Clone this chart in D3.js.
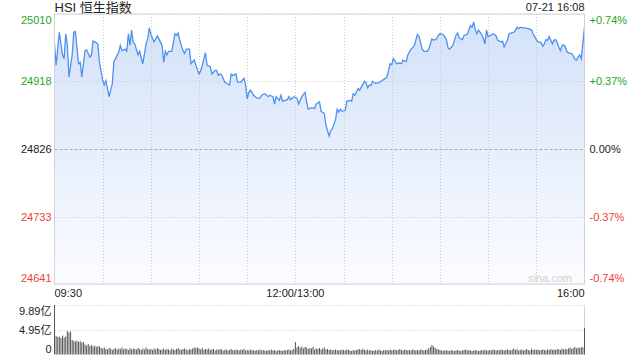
<!DOCTYPE html>
<html>
<head>
<meta charset="utf-8">
<script src="https://cdn.jsdelivr.net/npm/d3@7/dist/d3.min.js"></script>
<style>
  body { margin: 0; background: #fff; }
  svg text { font-family: "Liberation Sans", Arial, "Noto Sans CJK SC", sans-serif; }
</style>
</head>
<body>
<div id="chart"></div>
<script>
// trading minutes since 09:30 (lunch break removed), and index level
var minutes = [0,1,3,5,6,7,8,9,11,12,13,15,16,17,19,20,22,23,24,26,27,28,30,31,32,33,34,36,37,38,40,41,42,44,45,46,47,48,49,50,52,53,55,57,58,59,60,62,64,65,67,68,69,70,71,73,75,76,77,78,80,81,82,84,
  85,87,88,90,91,92,94,95,97,98,100,101,102,103,104,106,109,110,111,113,114,116,118,119,120,121,122,124,126,128,129,131,133,134,136,137,138,140,141,142,145,146,147,149,151,
  152,154,156,157,158,160,162,163,165,166,168,169,171,172,173,175,176,177,178,179,181,182,184,185,186,187,189,190,191,193,194,195,196,197,198,200,201,202,204,206,207,208,209,210,211,213,215,216,217,219,220,222,223,224,226,227,229,230,232,233,235,236,238,239,240,242,244,245,246,248,250,251,252,
  254,255,257,258,259,260,261,262,263,264,266,267,268,269,270,271,273,274,275,276,278,279,280,282,283,284,286,287,288,289,290,292,293,295,297,298,300,301,303,304,305,306,307,308,310,311,312,313,314,315,316,317,318,319,320,322,323,324,325,326,327,328,330];
var prices = [24969,24940,24985,24954,24949,24983,24967,24924,24954,24985,24986,24942,24944,24924,24960,24961,24951,24954,24973,24971,24969,24944,24919,24913,24919,24908,24897,24915,24945,24949,24958,24967,24960,24962,24959,24983,24967,24988,24971,24969,24954,24959,24942,24969,24976,24991,24982,24972,24980,24976,24967,24944,24959,24954,24959,24959,24983,24981,24984,24974,24960,24956,24962,24962,
  24942,24947,24940,24928,24932,24940,24957,24940,24938,24928,24933,24933,24926,24928,24927,24917,24913,24928,24926,24928,24917,24917,24922,24913,24894,24903,24906,24899,24895,24895,24899,24901,24897,24899,24897,24887,24897,24892,24899,24891,24893,24897,24893,24897,24895,
  24887,24897,24903,24890,24880,24882,24881,24887,24890,24877,24874,24858,24843,24851,24853,24866,24880,24876,24880,24877,24878,24891,24892,24891,24901,24899,24908,24906,24910,24918,24916,24909,24913,24912,24918,24915,24916,24916,24919,24922,24924,24933,24942,24941,24949,24942,24943,24942,24947,24945,24954,24962,24964,24967,24982,24979,24962,24959,24959,24962,24976,24974,24976,24981,24983,24982,24975,24964,24962,24967,24981,24984,24977,
  24975,24981,24982,24988,24994,24992,24999,24988,24983,24988,24982,24977,24969,24988,24979,24980,24983,24982,24980,24974,24972,24973,24965,24974,24983,24984,24985,24988,24992,24990,24992,24991,24991,24990,24988,24983,24975,24972,24971,24966,24969,24975,24974,24979,24969,24974,24975,24971,24965,24960,24967,24968,24965,24959,24957,24956,24953,24948,24947,24951,24954,24949,24992];

// volume per minute, in 亿
var volumes = [
  9.89,3.7,3.5,3.6,3.3,3.8,3.4,3.6,4.7,4.4,4.6,2.9,2.7,2.6,2.8,2.5,2.7,2.4,2.5,2.0,1.8,2.1,1.7,1.9,1.6,1.8,1.5,1.7,1.6,1.3,
  1.2,1.4,1.1,1.0,1.3,1.2,0.9,1.1,1.3,1.0,1.2,1.1,1.4,1.0,1.2,1.1,0.9,1.3,1.0,1.2,1.1,1.0,1.3,1.1,0.9,1.2,1.0,1.4,1.1,1.0,
  1.1,0.9,1.2,1.0,1.3,1.1,0.9,1.0,1.2,0.9,1.1,1.0,0.8,1.2,1.0,0.9,1.1,1.3,1.0,0.9,1.1,1.2,1.0,0.8,1.1,1.0,1.2,1.4,1.3,1.4,
  1.2,1.0,1.3,0.9,1.1,1.0,1.2,0.9,1.0,1.1,0.8,1.0,0.9,1.1,1.0,0.8,0.9,1.0,0.8,0.9,1.1,0.9,0.8,1.0,0.9,0.8,1.0,0.9,1.1,0.8,
  0.9,0.8,1.0,0.8,0.9,0.7,0.9,0.8,1.0,0.8,0.9,0.8,0.7,0.9,0.8,1.0,0.8,0.9,0.7,0.8,0.9,0.8,0.7,0.9,0.8,0.9,1.0,0.8,0.9,1.1,
  2.5,1.4,1.7,1.3,1.6,1.2,1.5,1.4,1.1,1.3,1.2,1.5,1.0,1.2,1.1,1.3,1.0,1.2,1.4,1.0,1.1,0.9,1.0,0.8,0.9,1.0,0.8,0.9,0.8,1.0,
  0.9,0.8,1.0,0.9,0.8,0.7,0.9,0.8,0.9,1.0,1.1,0.9,1.2,0.9,0.8,1.0,0.8,0.9,0.7,0.8,0.9,0.8,1.0,0.8,0.7,0.9,0.8,0.9,0.8,1.0,
  0.8,0.9,1.0,0.8,0.9,1.1,0.9,0.8,1.0,0.9,0.8,0.9,0.8,1.0,0.9,0.8,0.9,0.8,1.0,0.9,0.8,0.9,1.0,1.2,1.5,1.9,1.6,1.3,1.1,1.0,
  0.9,0.8,0.7,0.9,0.8,0.8,0.7,0.9,0.8,0.7,0.8,0.9,0.8,0.7,0.8,0.9,1.0,0.8,0.9,0.8,0.7,0.8,0.9,0.8,0.7,0.8,0.9,0.8,1.0,0.8,
  0.8,0.9,0.8,1.0,0.9,0.8,0.9,0.8,1.0,0.9,0.8,0.9,1.0,0.9,0.8,1.0,1.2,0.9,1.1,0.8,0.9,1.0,0.8,0.9,1.1,0.9,0.8,1.2,0.9,1.0,
  0.9,1.0,0.8,0.9,1.0,0.9,0.8,1.0,0.9,1.1,0.9,1.0,0.9,1.1,1.0,0.9,1.2,1.0,1.1,1.0,1.2,1.4,1.1,1.3,1.5,1.2,1.4,1.3,1.5,1.4,
  5.3];

var priceTicks = [25010, 24918, 24826, 24733, 24641];
var pctLabels = ["+0.74%", "+0.37%", "0.00%", "-0.37%", "-0.74%"];
var prevClose = 24826;
var timeTicks = [0, 150, 330];
var timeLabels = ["09:30", "12:00/13:00", "16:00"];
var volTicks = [9.89, 4.95, 0];
var volLabels = ["9.89亿", "4.95亿", "0"];
var title = "HSI 恒生指数";
var stamp = "07-21 16:08";

var W = 640, H = 360;
var plotL = 54.5, plotR = 584.5, plotT = 14, plotB = 284;
var volT = 305, volB = 354.5;
var green = "#1ea51e", red = "#f03c3c", dark = "#222";

var svg = d3.select("#chart").append("svg")
  .attr("width", W).attr("height", H);

var x = d3.scaleLinear().domain([0, 330]).range([plotL, plotR]);
var y = d3.scaleLinear().domain([24641, 25010]).range([plotB, plotT]);
var yv = d3.scaleLinear().domain([0, 9.89]).range([volB, volT]);

var grad = svg.append("defs").append("linearGradient")
  .attr("id", "fill").attr("gradientUnits", "userSpaceOnUse")
  .attr("x1", 0).attr("x2", 0).attr("y1", plotT).attr("y2", plotB);
grad.append("stop").attr("offset", "0%").attr("stop-color", "#d2e1f8");
grad.append("stop").attr("offset", "100%").attr("stop-color", "#fbfcff");

var series = minutes.map(function(m, i) { return {m: m, p: prices[i]}; });

// area under the line
svg.append("path")
  .datum(series)
  .attr("fill", "url(#fill)")
  .attr("d", d3.area().x(d => x(d.m)).y0(plotB).y1(d => y(d.p)));

// grid
var grid = svg.append("g");
d3.range(1, 11).forEach(function(k) {
  grid.append("line")
    .attr("x1", Math.round(x(k * 30)) + 0.5).attr("x2", Math.round(x(k * 30)) + 0.5)
    .attr("y1", plotT).attr("y2", plotB)
    .attr("stroke", "#c8c8c8").attr("stroke-dasharray", "1,2");
});
priceTicks.forEach(function(t) {
  var isBase = t === prevClose;
  grid.append("line")
    .attr("x1", plotL).attr("x2", plotR)
    .attr("y1", Math.round(y(t)) + 0.5).attr("y2", Math.round(y(t)) + 0.5)
    .attr("stroke", isBase ? "#aaa" : "#c8c8c8")
    .attr("stroke-dasharray", isBase ? "3,2" : "1,2");
});

svg.append("path")
  .datum(series)
  .attr("fill", "none")
  .attr("stroke", "#5090ee")
  .attr("stroke-width", 1.3)
  .attr("d", d3.line().x(d => x(d.m)).y(d => y(d.p)));

// border
svg.append("rect")
  .attr("x", plotL).attr("y", plotT)
  .attr("width", plotR - plotL).attr("height", plotB - plotT)
  .attr("fill", "none").attr("stroke", "#d4d4d4");

// axis labels, first and last pulled inside the plot
var labelY = function(i, n, pos) {
  if (i === 0) return pos + 10;
  if (i === n - 1) return pos - 2;
  return pos + 4;
};
var colorOf = t => t > prevClose ? green : (t < prevClose ? red : dark);
svg.append("g").selectAll("text")
  .data(priceTicks).enter().append("text")
  .attr("x", plotL - 3)
  .attr("y", (t, i) => labelY(i, priceTicks.length, y(t)))
  .attr("text-anchor", "end")
  .attr("font-size", 11)
  .attr("fill", colorOf)
  .text(t => t);
svg.append("g").selectAll("text")
  .data(priceTicks).enter().append("text")
  .attr("x", plotR + 5)
  .attr("y", (t, i) => labelY(i, priceTicks.length, y(t)))
  .attr("font-size", 11)
  .attr("fill", colorOf)
  .text((t, i) => pctLabels[i]);

// time labels
svg.append("g").selectAll("text")
  .data(timeTicks).enter().append("text")
  .attr("x", t => x(t))
  .attr("y", 297)
  .attr("text-anchor", (t, i) => i === 0 ? "start" : (i === timeTicks.length - 1 ? "end" : "middle"))
  .attr("font-size", 11)
  .attr("fill", dark)
  .text((t, i) => timeLabels[i]);

svg.append("text")
  .attr("x", 572).attr("y", 282)
  .attr("text-anchor", "end")
  .attr("font-size", 11)
  .attr("fill", "#cfcfcf")
  .text("sina.com");

svg.append("text")
  .attr("x", plotL).attr("y", 12)
  .attr("font-size", 13)
  .attr("fill", dark)
  .text(title);
svg.append("text")
  .attr("x", plotR).attr("y", 11)
  .attr("text-anchor", "end")
  .attr("font-size", 11)
  .attr("fill", dark)
  .text(stamp);

// volume panel
var vg = svg.append("g");
volTicks.slice(0, 2).forEach(function(t) {
  vg.append("line")
    .attr("x1", plotL).attr("x2", plotR)
    .attr("y1", Math.round(yv(t)) + 0.5).attr("y2", Math.round(yv(t)) + 0.5)
    .attr("stroke", "#c8c8c8").attr("stroke-dasharray", "1,2");
});
[plotL, plotR].forEach(function(px) {
  vg.append("line")
    .attr("x1", px).attr("x2", px)
    .attr("y1", volT).attr("y2", volB)
    .attr("stroke", "#d4d4d4");
});
vg.selectAll("rect.bar")
  .data(volumes).enter().append("rect")
  .attr("class", "bar")
  .attr("x", (v, i) => x(i) - 0.5)
  .attr("width", 1)
  .attr("y", v => yv(v))
  .attr("height", v => volB - yv(v))
  .attr("fill", "#555");
vg.selectAll("text")
  .data(volTicks).enter().append("text")
  .attr("x", plotL - 3)
  .attr("y", (t, i) => labelY(i, volTicks.length, yv(t)))
  .attr("text-anchor", "end")
  .attr("font-size", 11)
  .attr("fill", dark)
  .text((t, i) => volLabels[i]);
</script>
</body>
</html>
